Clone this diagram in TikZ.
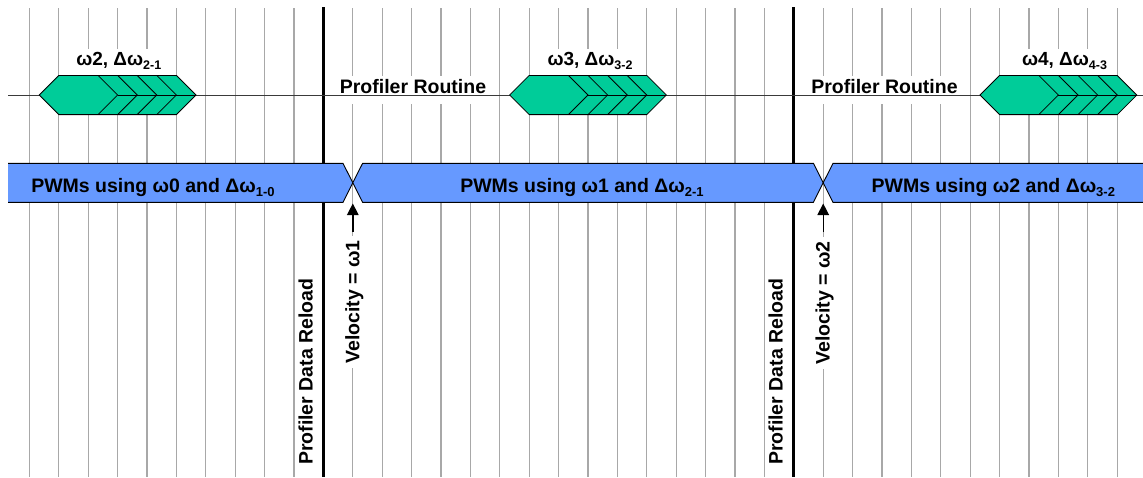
\documentclass[tikz,border=0pt]{standalone}
\usepackage{fontspec}
\setmainfont{Liberation Sans}
\usetikzlibrary{arrows.meta}
\definecolor{hexgreen}{HTML}{00CC99}
\definecolor{barblue}{HTML}{6699FF}
\definecolor{gridgrey}{HTML}{A8A8A8}
\definecolor{axisgrey}{HTML}{3A3A3A}
\newcommand{\sbs}[2]{\raisebox{-0.22em}{\fontsize{#1}{#1}\selectfont #2}}
\tikzset{
  gridline/.style={draw=gridgrey, line width=1.1pt},
  sepline/.style={draw=black, line width=3pt},
  axisline/.style={draw=axisgrey, line width=1pt},
  hexshape/.style={fill=hexgreen, draw=black, line width=0.8pt, line join=miter},
  chevline/.style={draw=black, line width=0.8pt},
  barfill/.style={fill=barblue},
  baredge/.style={draw=black, line width=0.9pt},
  whitebox/.style={fill=white},
  lbl/.style={font=\bfseries\fontsize{19.5}{22}\selectfont, inner sep=0pt, anchor=base},
  hexlbl/.style={font=\bfseries\fontsize{19}{21}\selectfont, inner sep=0pt, anchor=base},
  vlbl/.style={font=\bfseries\fontsize{19.5}{22}\selectfont, inner xsep=4pt, inner ysep=1pt, anchor=base, rotate=90, fill=white},
  arrowline/.style={draw=black, line width=1.4pt, -{Triangle[width=11.5pt,length=11.5pt]}}
}
\begin{document}
\begin{tikzpicture}[x=1pt,y=-1pt]
\useasboundingbox[fill=white] (0,0) rectangle (1143,477);
\def\u{29.4}
% grid
\foreach \k in {1,...,38}{
  \draw[gridline] (\k*\u,8) -- (\k*\u,477);
}
% separators
\draw[sepline] (11*\u,7) -- (11*\u,477);
\draw[sepline] (27*\u,7) -- (27*\u,477);
% white label boxes
\foreach \s in {0,16,32}{
  \fill[whitebox] ({(\s+2)*\u+1.5},49) rectangle ({(\s+6)*\u-1.5},74.5);
}
\fill[whitebox] (337,76) rectangle (490,104);
\fill[whitebox] (808,76) rectangle (961,104);
% axis line
\draw[axisline] (8,95) -- (1143,95);
% hexagons with chevrons
\foreach \s in {0,16,32}{
  \draw[hexshape] ({(\s+1.3333)*\u},95) -- ({(\s+2)*\u},75.4) -- ({(\s+6)*\u},75.4)
     -- ({(\s+6.6667)*\u},95) -- ({(\s+6)*\u},114.6) -- ({(\s+2)*\u},114.6) -- cycle;
  \foreach \t in {3.3333,4,4.6667,5.3333}{
    \draw[chevline] ({(\s+\t)*\u},75.4) -- ({(\s+\t+0.6667)*\u},95) -- ({(\s+\t)*\u},114.6);
  }
  \draw[chevline] ({(\s+4)*\u},95) -- ({(\s+6.6667)*\u},95);
}
% bar segments
\fill[barfill] (8,163.3) -- ({11.6667*\u},163.3) -- ({12*\u},182.8) -- ({11.6667*\u},202.3) -- (8,202.3) -- cycle;
\draw[baredge] (8,163.3) -- ({11.6667*\u},163.3) -- ({12*\u},182.8) -- ({11.6667*\u},202.3) -- (8,202.3);
\draw[barfill, baredge] ({12.3333*\u},163.3) -- ({27.6667*\u},163.3) -- ({28*\u},182.8) -- ({27.6667*\u},202.3)
   -- ({12.3333*\u},202.3) -- ({12*\u},182.8) -- cycle;
\fill[barfill] (1143,163.3) -- ({28.3333*\u},163.3) -- ({28*\u},182.8) -- ({28.3333*\u},202.3) -- (1143,202.3) -- cycle;
\draw[baredge] (1143,163.3) -- ({28.3333*\u},163.3) -- ({28*\u},182.8) -- ({28.3333*\u},202.3) -- (1143,202.3);
% labels
\node[hexlbl] (h1) at (118.8,65.7) {ω2, Δω\sbs{12.5}{2-1}};
\node[hexlbl] (h2) at (590,65.7) {ω3, Δω\sbs{12.5}{3-2}};
\node[hexlbl] (h3) at (1064.5,65.7) {ω4, Δω\sbs{12.5}{4-3}};
\node[lbl] (pr1) at (413,93.3) {Profiler Routine};
\node[lbl] (pr2) at (884.5,93.3) {Profiler Routine};
\node[lbl] (p1) at (153,192.3) {PWMs using ω0 and Δω\sbs{13}{1-0}};
\node[lbl] (p2) at (582,192.3) {PWMs using ω1 and Δω\sbs{13}{2-1}};
\node[lbl] (p3) at (993.3,192.3) {PWMs using ω2 and Δω\sbs{13}{3-2}};
\node[lbl, rotate=90] (r1) at (312.5,371.7) {Profiler Data Reload};
\node[lbl, rotate=90] (r2) at (782.5,371.7) {Profiler Data Reload};
\node[vlbl] (v1) at (359.3,302) {Velocity = ω1};
\node[vlbl] (v2) at (829.7,303) {Velocity = ω2};
% arrows
\coordinate (a1s) at ({12*\u},232);
\coordinate (a1t) at ({12*\u},203.5);
\coordinate (a2s) at ({28*\u},232);
\coordinate (a2t) at ({28*\u},203.5);
\draw[arrowline] (a1s) -- (a1t);
\draw[arrowline] (a2s) -- (a2t);
\end{tikzpicture}
\end{document}
